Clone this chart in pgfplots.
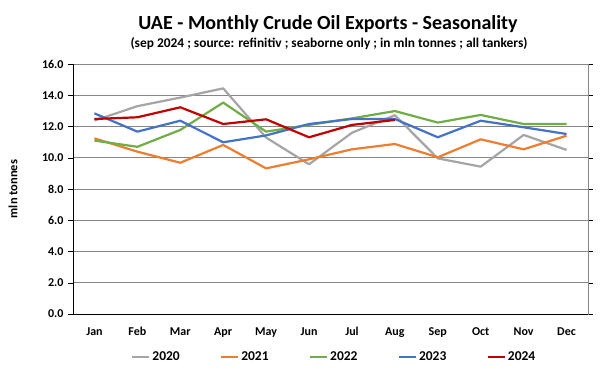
\documentclass[border=0pt]{standalone}
\usepackage{pgfplots}
\pgfplotsset{compat=1.18}
\usepackage{fontspec}
\setmainfont{Carlito}
\definecolor{c20}{RGB}{165,165,165}
\definecolor{c21}{RGB}{237,125,49}
\definecolor{c22}{RGB}{112,173,71}
\definecolor{c23}{RGB}{68,114,196}
\definecolor{c24}{RGB}{192,0,0}
\definecolor{gridc}{RGB}{134,134,134}
\begin{document}
\begin{tikzpicture}
\useasboundingbox (-73pt,-61pt) rectangle (527pt,314pt);
\begin{axis}[
  scale only axis, width=515pt, height=250pt,
  xmin=-0.5, xmax=11.5, ymin=0, ymax=16,
  xtick={0,...,11},
  xticklabels={Jan,Feb,Mar,Apr,May,Jun,Jul,Aug,Sep,Oct,Nov,Dec},
  ytick={0,2,...,16},
  yticklabel style={/pgf/number format/.cd, fixed, fixed zerofill, precision=1},
  /pgf/number format/assume math mode=true,
  tick label style={font=\fontsize{12}{14}\selectfont\bfseries},
  xtick style={draw=none},
  ytick style={black, thin},
  tick align=outside, major tick length=5pt,
  ymajorgrids, grid style={gridc, line width=0.8pt},
  axis line style={gridc, line width=0.8pt},
  xticklabel shift=5pt, yticklabel shift=1pt,
  ylabel={mln tonnes}, ylabel style={font=\fontsize{12.5}{14}\selectfont\bfseries, at={(axis description cs:0,0.5)}, anchor=center, yshift=60pt},
  legend columns=5,
  legend style={draw=none, fill=none, at={(0.507,-0.172)}, anchor=center, font=\fontsize{13.5}{15}\selectfont\bfseries, /tikz/every even column/.append style={column sep=38pt}},
  legend image code/.code={\draw[#1, line width=2.5pt] (0pt,0pt) -- (17pt,0pt);},
  every axis plot/.append style={line width=2.2pt, line join=round},
  clip=false,
]
\addplot[c20] coordinates {(0,12.38)(1,13.3)(2,13.85)(3,14.44)(4,11.29)(5,9.58)(6,11.6)(7,12.72)(8,9.96)(9,9.43)(10,11.46)(11,10.5)};
\addplot[c21] coordinates {(0,11.24)(1,10.39)(2,9.68)(3,10.82)(4,9.32)(5,9.9)(6,10.54)(7,10.88)(8,10.03)(9,11.18)(10,10.54)(11,11.41)};
\addplot[c22] coordinates {(0,11.1)(1,10.7)(2,11.78)(3,13.53)(4,11.67)(5,12.1)(6,12.52)(7,12.99)(8,12.25)(9,12.74)(10,12.16)(11,12.16)};
\addplot[c23] coordinates {(0,12.84)(1,11.67)(2,12.37)(3,10.99)(4,11.43)(5,12.16)(6,12.48)(7,12.48)(8,11.31)(9,12.37)(10,11.95)(11,11.52)};
\addplot[c24] coordinates {(0,12.48)(1,12.59)(2,13.23)(3,12.16)(4,12.46)(5,11.31)(6,12.1)(7,12.42)};
\legend{2020,2021,2022,2023,2024}
\draw[black, line width=0.8pt] (axis cs:-0.5,16) -- (axis cs:-0.5,0) -- (axis cs:11.5,0);
\end{axis}
\node[font=\fontsize{20}{23}\selectfont\bfseries] at (255pt,290pt) {UAE - Monthly Crude Oil Exports - Seasonality};
\node[font=\fontsize{13.4}{15}\selectfont\bfseries] at (256pt,270pt) {(sep 2024 ; source: refinitiv ; seaborne only ; in mln tonnes ; all tankers)};
\end{tikzpicture}
\end{document}
